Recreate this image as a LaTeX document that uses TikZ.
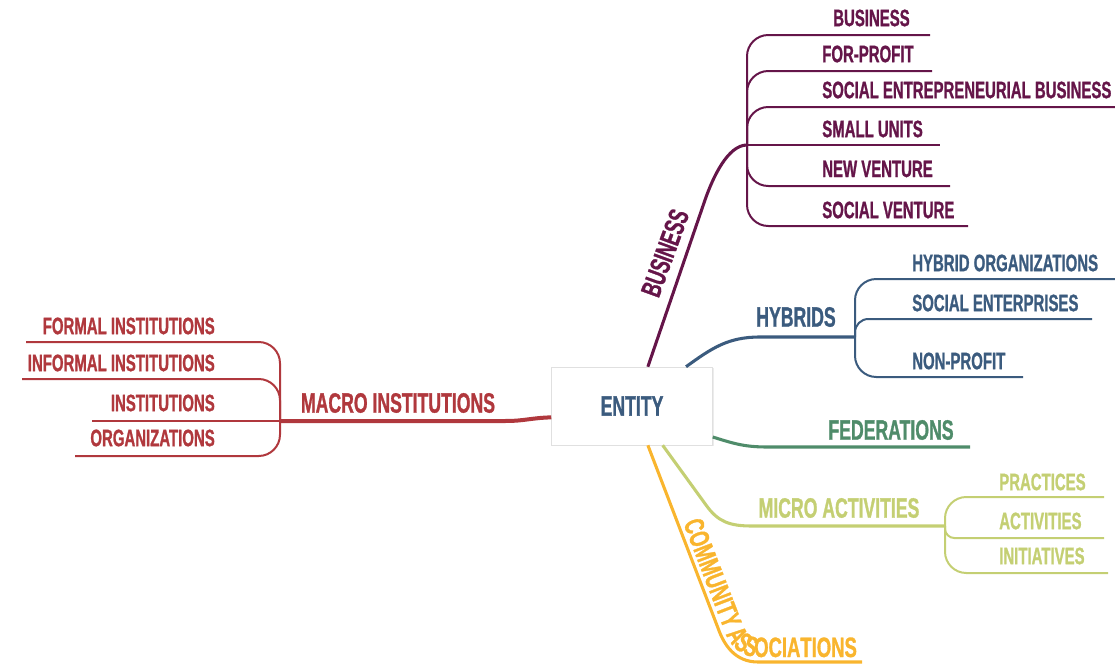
\documentclass[tikz,border=0pt]{standalone}
\usepackage{fontspec}
\usepackage{tikz}
\usetikzlibrary{calc,shadows,decorations.text}

\newfontfamily\mapfont{Liberation Sans}[FakeStretch=0.63, FakeBold=1]
\newfontfamily\bendfont{Liberation Sans}[FakeStretch=0.66, FakeBold=1]
\newcommand\leaffont{\mapfont\bfseries\fontsize{17.8}{20}\selectfont}
\newcommand\topicfont{\mapfont\bfseries\fontsize{21}{24}\selectfont}
\newcommand\curvefont{\bendfont\bfseries\fontsize{21}{24}\selectfont}

\definecolor{busc}{HTML}{651549}
\definecolor{hybc}{HTML}{3B5B7E}
\definecolor{fedc}{HTML}{4F8C6A}
\definecolor{micc}{HTML}{C4CF73}
\definecolor{comc}{HTML}{F9B52E}
\definecolor{macc}{HTML}{B0383D}

\tikzset{
	leaf/.style={font=\leaffont, inner sep=0pt},
	topic/.style={font=\topicfont, inner sep=0pt},
	twig/.style={line width=1.5pt, rounded corners=16pt},
	limb/.style={line width=2.3pt},
}

\begin{document}
\begin{tikzpicture}[x=0.75pt,y=0.75pt]
	
	\useasboundingbox (0,0) rectangle (1115,-664);
	
	\node[draw=black!12, fill=white, drop shadow={opacity=0.15, shadow xshift=1pt, shadow yshift=-1pt}, minimum width=120.75pt, minimum height=58.5pt, font=\topicfont, text=hybc] (entity) at (632,-406) {ENTITY};
	
	\node[topic, text=macc] (macro) at (398,-403) {MACRO INSTITUTIONS};
	
	\node[leaf, text=macc, anchor=east] (formal) at (215,-326) {FORMAL INSTITUTIONS};
	
	\node[leaf, text=macc, anchor=east] (informal) at (215,-363) {INFORMAL INSTITUTIONS};
	
	\node[leaf, text=macc, anchor=east] (inst) at (215,-403) {INSTITUTIONS};
	
	\node[leaf, text=macc, anchor=east] (orgs) at (215,-438) {ORGANIZATIONS};
	
	\node[topic, text=busc, rotate=70] (business) at (665,-253) {BUSINESS};
	
	\node[leaf, text=busc, anchor=west] (bus) at (833,-18) {BUSINESS};
	
	\node[leaf, text=busc, anchor=west] (forprofit) at (822,-54) {FOR-PROFIT};
	
	\node[leaf, text=busc, anchor=west] (seb) at (822,-90) {SOCIAL ENTREPRENEURIAL BUSINESS};
	
	\node[leaf, text=busc, anchor=west] (small) at (822,-129) {SMALL UNITS};
	
	\node[leaf, text=busc, anchor=west] (newv) at (822,-169) {NEW VENTURE};
	
	\node[leaf, text=busc, anchor=west] (socv) at (822,-210) {SOCIAL VENTURE};
	
	\node[topic, text=hybc] (hybrids) at (796,-317) {HYBRIDS};
	
	\node[leaf, text=hybc, anchor=west] (hyborg) at (912,-263) {HYBRID ORGANIZATIONS};
	
	\node[leaf, text=hybc, anchor=west] (socent) at (912,-303) {SOCIAL ENTERPRISES};
	
	\node[leaf, text=hybc, anchor=west] (nonprof) at (912,-361) {NON-PROFIT};
	
	\node[topic, text=fedc] (fed) at (891,-430) {FEDERATIONS};
	
	\node[topic, text=micc] (micro) at (839,-508) {MICRO ACTIVITIES};
	
	\node[leaf, text=micc, anchor=west] (pract) at (999,-482) {PRACTICES};
	
	\node[leaf, text=micc, anchor=west] (activ) at (999,-521) {ACTIVITIES};
	
	\node[leaf, text=micc, anchor=west] (initi) at (999,-556) {INITIATIVES};
	
	\coordinate (mjoint) at (280,-421);
	\coordinate (bjoint) at (747,-145);
	\coordinate (hjoint) at (855,-337);
	\coordinate (ajoint) at (945,-526);
	\coordinate (fedend) at (970,-447);
	\coordinate (comend) at (862,-662);
	
	\draw[macc, line width=3pt] (entity.188) .. controls (530,-418) and (525,-421) .. (505,-421) -- (mjoint);
	\draw[macc, twig] (mjoint) |- (26,-342);
	\draw[macc, twig] (mjoint) |- (22,-379);
	\draw[macc, twig] (mjoint) -- (92,-421);
	\draw[macc, twig] (mjoint) |- (75,-456);
	
	\draw[busc, limb] (entity.68) -- (705,-200) .. controls (713,-177) and (728,-145) .. (bjoint);
	\draw[busc, twig] (bjoint) |- (930,-35);
	\draw[busc, twig] (bjoint) |- (932,-71);
	\draw[busc, twig] (bjoint) |- (1115,-107);
	\draw[busc, twig] (bjoint) -- (940,-145);
	\draw[busc, twig] (bjoint) |- (950,-186);
	\draw[busc, twig] (bjoint) |- (968,-226);
	
	\draw[hybc, limb] (entity.36) .. controls (712,-348) and (728,-337) .. (760,-337) -- (hjoint);
	\draw[hybc, twig] (hjoint) |- (1115,-279);
	\draw[hybc, twig, rounded corners=10pt] (hjoint) |- (1092,-319);
	\draw[hybc, twig] (hjoint) |- (1023,-377);
	
	\draw[fedc, limb] (entity.-21) .. controls (735,-444) and (745,-447) .. (768,-447) -- (fedend);
	
	\draw[micc, limb] (entity.-52) -- (706,-505) .. controls (718,-522) and (730,-526) .. (752,-526) -- (ajoint);
	\draw[micc, twig] (ajoint) |- (1104,-497);
	\draw[micc, twig, rounded corners=7pt] (ajoint) |- (1104,-538);
	\draw[micc, twig] (ajoint) |- (1108,-573);
	
	\draw[comc, limb] (entity.-68) -- (718,-628) .. controls (724,-645) and (735,-662) .. (758,-662) -- (comend);
	\path[decorate, decoration={text along path, text={|\curvefont|COMMUNITY ASSOCIATIONS}, text color=comc, text align={left indent=64pt}}] ($(entity.-68)+(4.7,1.8)$) -- (722.7,-626.2) .. controls (728,-642) and (738,-657) .. (758,-657) -- (900,-657);
	
\end{tikzpicture}
\end{document}
